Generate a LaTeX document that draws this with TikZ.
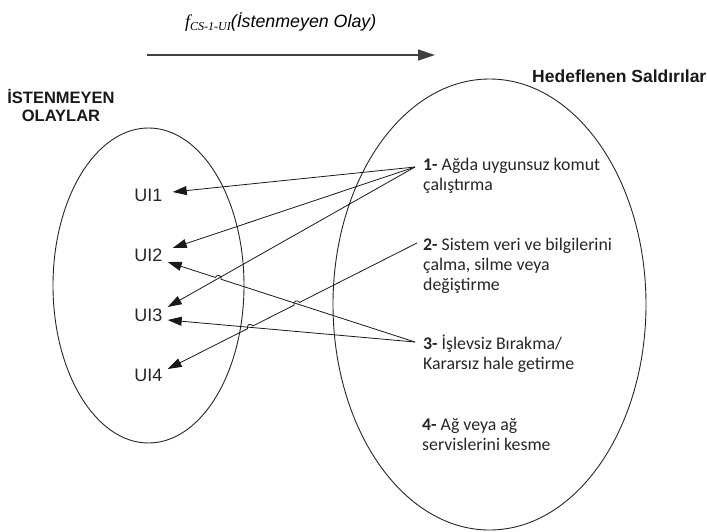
\documentclass[tikz,border=0pt]{standalone}
\usepackage{fontspec}
\setmainfont{Liberation Sans}
\newfontfamily\arialf{Liberation Sans}
\newfontfamily\calibrif{Carlito}
\newfontfamily\timesf{Liberation Serif}
\usetikzlibrary{arrows.meta,shapes.geometric,calc,intersections}
\begin{document}
\begin{tikzpicture}[x=1pt,y=-1pt,
  ell/.style={draw=black!85, line width=0.9pt, ellipse, inner sep=0pt},
  uilbl/.style={font=\arialf\fontsize{18}{20}\selectfont, inner sep=0pt, text=black!85},
  item/.style={font=\calibrif\fontsize{17.8}{20}\selectfont, align=left, anchor=north west, inner sep=0pt, text=black!85},
  hdr/.style={font=\arialf\bfseries\fontsize{16.5}{18}\selectfont, inner sep=0pt, text=black!90},
  link/.style={line width=0.8pt, black!90, -{Triangle[length=14pt,width=9pt]}},
  titlearrow/.style={line width=1.4pt, black!75, -{Triangle[length=17pt,width=11pt]}},
]
\useasboundingbox (0,0) rectangle (707,531);

% ellipses
\node[ell, minimum width=191pt, minimum height=315pt] (L) at (148.5,285.5) {};
\node[ell, minimum width=313pt, minimum height=451pt] (R) at (489.5,304.5) {};

% title and arrow
\node[anchor=base west, inner sep=0pt] (title) at (185,27)
  {{\timesf\itshape\fontsize{18}{20}\selectfont f}{\timesf\itshape\fontsize{12}{12}\selectfont\raisebox{-3pt}{CS-1-UI}}{\arialf\itshape\fontsize{17.8}{20}\selectfont(İstenmeyen Olay)}};
\coordinate (a0) at (147,55);
\coordinate (a1) at (435,55);
\draw[titlearrow] (a0) -- (a1);

% headers
\node[hdr, align=center, anchor=south] (lh) at (61,122) {İSTENMEYEN\\OLAYLAR};
\node[hdr, font=\arialf\bfseries\fontsize{17.5}{18}\selectfont, anchor=base east] (rh) at (706.5,82) {Hedeflenen Saldırılar};

% left items
\node[uilbl] (ui1) at (148.5,195) {UI1};
\node[uilbl] (ui2) at (148.5,255) {UI2};
\node[uilbl] (ui3) at (148.5,315) {UI3};
\node[uilbl] (ui4) at (148.5,375) {UI4};

% right items
\node[item] (t1) at (423,156) {\strut\textbf{1-} Ağda uygunsuz komut\\çalıştırma};
\node[item] (t2) at (423,236) {\strut\textbf{2-} Sistem veri ve bilgilerini\\çalma, silme veya\\değiştirme};
\node[item] (t3) at (423,335) {\strut\textbf{3-} İşlevsiz Bırakma/\\Kararsız hale getirme};
\node[item] (t4) at (422,416) {\strut\textbf{4-} Ağ veya ağ\\servislerini kesme};

% connector ends
\coordinate (s1) at ([shift={(-8pt,-11pt)}]t1.north west);
\coordinate (s2) at ([shift={(-6pt,-7pt)}]t2.north west);
\coordinate (s3) at ([shift={(-8pt,-7pt)}]t3.north west);
\coordinate (e1) at ([shift={(10pt,3pt)}]ui1.east);
\coordinate (e2a) at ([shift={(10pt,7pt)}]ui2.east);
\coordinate (e2b) at ([shift={(5pt,-7pt)}]ui2.east);
\coordinate (e3a) at ([shift={(5pt,8pt)}]ui3.east);
\coordinate (e3b) at ([shift={(5pt,-5pt)}]ui3.east);
\coordinate (e4) at ([shift={(5pt,6pt)}]ui4.east);

% crossings
\path[name path=pA] (s1) -- (e3a);
\path[name path=pB] (s3) -- (e2b);
\path[name path=pC] (s2) -- (e4);
\path[name path=pD] (s3) -- (e3b);
\path[name intersections={of=pA and pB, by=xAB}];
\path[name intersections={of=pC and pB, by=xCB}];
\path[name intersections={of=pC and pD, by=xCD}];

% connectors
\draw[link] (s1) -- (e1);
\draw[link] (s1) -- (e2a);
\draw[link] (s1) -- (e3a);
\draw[link] (s3) -- (e3b);
\draw[link] let \p1=($(s3)-(xAB)$), \n1={atan2(\y1,\x1)} in
  (s3) -- ($(xAB)!3pt!(s3)$) arc[start angle=\n1, end angle=\n1+180, radius=3pt] -- (e2b);
\draw[link] let \p1=($(s2)-(xCB)$), \n1={atan2(\y1,\x1)} in
  (s2) -- ($(xCB)!3pt!(s2)$) arc[start angle=\n1, end angle=\n1+180, radius=3pt]
  -- ($(xCD)!3pt!(s2)$) arc[start angle=\n1, end angle=\n1+180, radius=3pt] -- (e4);
\end{tikzpicture}
\end{document}
